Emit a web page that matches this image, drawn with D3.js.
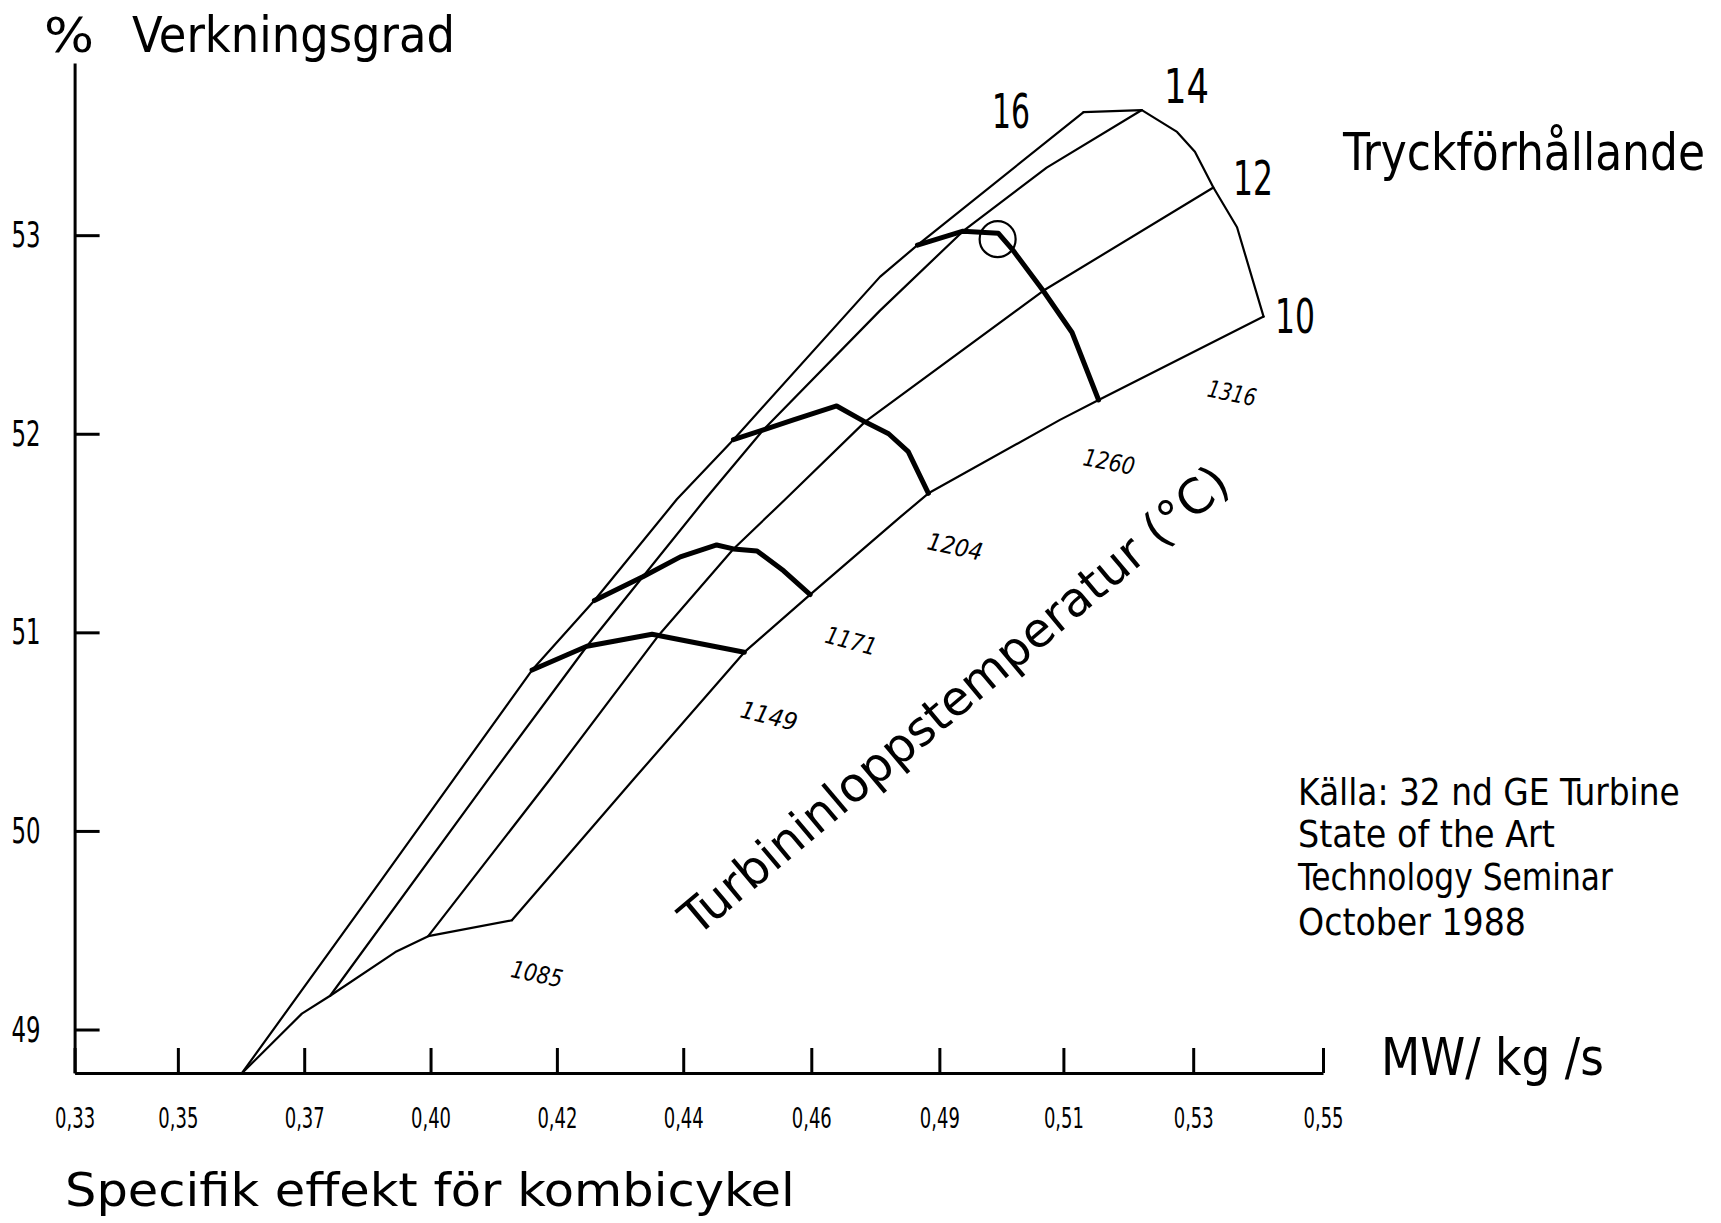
<!DOCTYPE html>
<html>
<head>
<meta charset="utf-8">
<script src="https://cdn.jsdelivr.net/npm/d3@7"></script>
<style>
  html, body { margin: 0; padding: 0; background: #fff; }
  svg { display: block; }
  text { font-family: "DejaVu Sans Condensed", "DejaVu Sans", "Liberation Sans Narrow", sans-serif; fill: #000; }
</style>
</head>
<body>
<svg id="chart" width="1721" height="1223"></svg>
<script>
// ---------- data ----------
// x axis: specific output of the combined cycle (MW per kg/s)
const xTickValues = [0.3347, 0.3526, 0.3745, 0.3964, 0.4183, 0.4402, 0.4624, 0.4846, 0.5061, 0.5286, 0.5511];
const xTickLabels = ["0,33", "0,35", "0,37", "0,40", "0,42", "0,44", "0,46", "0,49", "0,51", "0,53", "0,55"];
// y axis: efficiency (%)
const yTickValues = [49, 50, 51, 52, 53];
const yTickLabels = ["49", "50", "51", "52", "53"];

// lines of constant pressure ratio, [MW/(kg/s), %]
const pressureRatios = ["16", "14", "12", "10"];
const ratio16 = [[0.3637, 48.78], [0.3878, 49.75], [0.4004, 50.26], [0.4140, 50.81], [0.4248, 51.16],
                 [0.4391, 51.67], [0.4489, 51.97], [0.4743, 52.79], [0.4808, 52.95], [0.5096, 53.62]];
const ratio14 = [[0.3790, 49.17], [0.4064, 50.26], [0.4235, 50.93], [0.4332, 51.28], [0.4440, 51.67],
                 [0.4541, 52.02], [0.4743, 52.62], [0.4887, 53.02], [0.5032, 53.34], [0.5197, 53.63]];
const ratio12 = [[0.3960, 49.47], [0.4171, 50.26], [0.4358, 50.98], [0.4489, 51.42], [0.4579, 51.67],
                 [0.4717, 52.06], [0.5026, 52.72], [0.5321, 53.24]];
const ratio10 = [[0.4105, 49.55], [0.4316, 50.26], [0.4508, 50.90], [0.4622, 51.19], [0.4778, 51.58],
                 [0.4827, 51.70], [0.5055, 52.07], [0.5122, 52.17], [0.5408, 52.59]];

// lines of constant turbine inlet temperature (°C)
const temperatures = ["1085", "1149", "1171", "1204", "1260", "1316"];
const temp1085 = [[0.3637, 48.78], [0.3741, 49.08], [0.3790, 49.17], [0.3903, 49.39], [0.3960, 49.47], [0.4105, 49.55]];
const temp1149 = [[0.4140, 50.81], [0.4235, 50.93], [0.4348, 50.99], [0.4508, 50.90]];
const temp1171 = [[0.4248, 51.16], [0.4332, 51.28], [0.4397, 51.38], [0.4460, 51.44], [0.4489, 51.42],
                  [0.4530, 51.41], [0.4576, 51.31], [0.4622, 51.19]];
const temp1204 = [[0.4489, 51.97], [0.4541, 52.02], [0.4593, 52.07], [0.4668, 52.14], [0.4717, 52.06],
                  [0.4758, 52.00], [0.4792, 51.91], [0.4827, 51.70]];
const temp1260 = [[0.4808, 52.95], [0.4887, 53.02], [0.4948, 53.01], [0.4972, 52.93], [0.5026, 52.72],
                  [0.5076, 52.51], [0.5122, 52.17]];
const temp1316 = [[0.5096, 53.62], [0.5197, 53.63], [0.5258, 53.52], [0.5289, 53.42], [0.5321, 53.24],
                  [0.5362, 53.04], [0.5408, 52.59]];

// ringed optimum
const optimum = [0.4947, 52.98];

const sourceLines = ["Källa: 32 nd GE Turbine", "State of the Art", "Technology Seminar", "October 1988"];

// ---------- layout ----------
const plot = { left: 74.6, right: 1323, top: 63, bottom: 1073 };
const FONT = '"DejaVu Sans Condensed", "DejaVu Sans", "Liberation Sans Narrow", sans-serif';

const svg = d3.select("#chart");

const x = d3.scaleLinear().domain([0.3347, 0.5511]).range([plot.left, plot.right]);
const y = d3.scaleLinear().domain([48.781, 53.867]).range([plot.bottom, plot.top]);

const line = d3.line().x(d => x(d[0])).y(d => y(d[1]));

// ---------- axes ----------
const gx = svg.append("g")
  .attr("transform", `translate(0,${plot.bottom})`)
  .call(d3.axisBottom(x)
    .tickValues(xTickValues)
    .tickFormat((d, i) => xTickLabels[i])
    .tickSizeInner(-25).tickSizeOuter(0).tickPadding(34))
  .attr("font-family", FONT).attr("font-size", 29);
gx.select(".domain").attr("stroke", "#000").attr("stroke-width", 3);
gx.selectAll(".tick line").attr("stroke", "#000").attr("stroke-width", 3);
gx.selectAll(".tick text").attr("fill", "#000")
  .attr("textLength", 40).attr("lengthAdjust", "spacingAndGlyphs");

const gy = svg.append("g")
  .attr("transform", `translate(${plot.left},0)`)
  .call(d3.axisLeft(y)
    .tickValues(yTickValues)
    .tickFormat((d, i) => yTickLabels[i])
    .tickSizeInner(-25).tickSizeOuter(0).tickPadding(34))
  .attr("font-family", FONT).attr("font-size", 36);
gy.select(".domain").attr("stroke", "#000").attr("stroke-width", 3);
gy.selectAll(".tick line").attr("stroke", "#000").attr("stroke-width", 3);
gy.selectAll(".tick text").attr("fill", "#000")
  .attr("textLength", 29).attr("lengthAdjust", "spacingAndGlyphs");

// ---------- grid of the performance map ----------
const thinLines = [ratio16, ratio14, ratio12, ratio10, temp1085, temp1316];
const thickLines = [temp1149, temp1171, temp1204, temp1260];

svg.append("g").selectAll("path").data(thinLines).join("path")
  .attr("d", line)
  .attr("fill", "none").attr("stroke", "#000").attr("stroke-width", 2.2)
  .attr("stroke-linejoin", "round").attr("stroke-linecap", "round");

svg.append("g").selectAll("path").data(thickLines).join("path")
  .attr("d", line)
  .attr("fill", "none").attr("stroke", "#000").attr("stroke-width", 5)
  .attr("stroke-linejoin", "round").attr("stroke-linecap", "round");

svg.append("circle")
  .attr("cx", x(optimum[0])).attr("cy", y(optimum[1])).attr("r", 18)
  .attr("fill", "none").attr("stroke", "#000").attr("stroke-width", 2.2);

// ---------- labels ----------
// Narrow lettering: each label is squeezed horizontally to a set width.
function label(txt, px, py, size, len, opts = {}) {
  const t = svg.append("text")
    .attr("x", 0).attr("y", 0)
    .attr("font-size", size)
    .attr("text-anchor", opts.anchor || "start")
    .text(txt);
  if (opts.italic) t.attr("font-style", "italic");
  if (opts.central) t.attr("dominant-baseline", "central");
  const natural = t.node().getComputedTextLength() || len;
  const sx = len ? len / natural : 1;
  t.attr("transform", `translate(${px},${py}) rotate(${opts.rotate || 0}) scale(${sx},1)`);
  return t;
}

// axis titles
label("%", 44, 52, 48, 50);
label("Verkningsgrad", 132, 52, 50, 323);
label("MW/ kg /s", 1381, 1075, 52, 223);
label("Specifik effekt för kombicykel", 65, 1206, 46, 730);

// pressure ratio labels
const ratioLabelPos = [[992, 128, 38], [1164, 103, 45], [1233, 195, 40], [1275, 333, 40]];
pressureRatios.forEach((r, i) => {
  const p = ratioLabelPos[i];
  label(r, p[0], p[1], 48, p[2]);
});
label("Tryckförhållande", 1343, 170, 52, 362);

// temperature labels
const tempLabelPos = [[537, 974, 52, 12], [769, 716, 58, 14], [851, 641, 52, 15],
                      [955, 547, 56, 12], [1109, 462, 52, 11], [1232, 393, 49, 12]];
temperatures.forEach((t, i) => {
  const p = tempLabelPos[i];
  label(t, p[0], p[1], 24, p[2], { anchor: "middle", rotate: p[3], italic: true, central: true });
});

// rotated caption for the temperature family
label("Turbininloppstemperatur (°C)", 954, 700, 48, 700,
      { anchor: "middle", rotate: -40, central: true });

// source note
const srcPos = [[805, 382], [847, 257], [890, 315], [935, 228]];
sourceLines.forEach((s, i) => label(s, 1298, srcPos[i][0], 37, srcPos[i][1]));
</script>
</body>
</html>
